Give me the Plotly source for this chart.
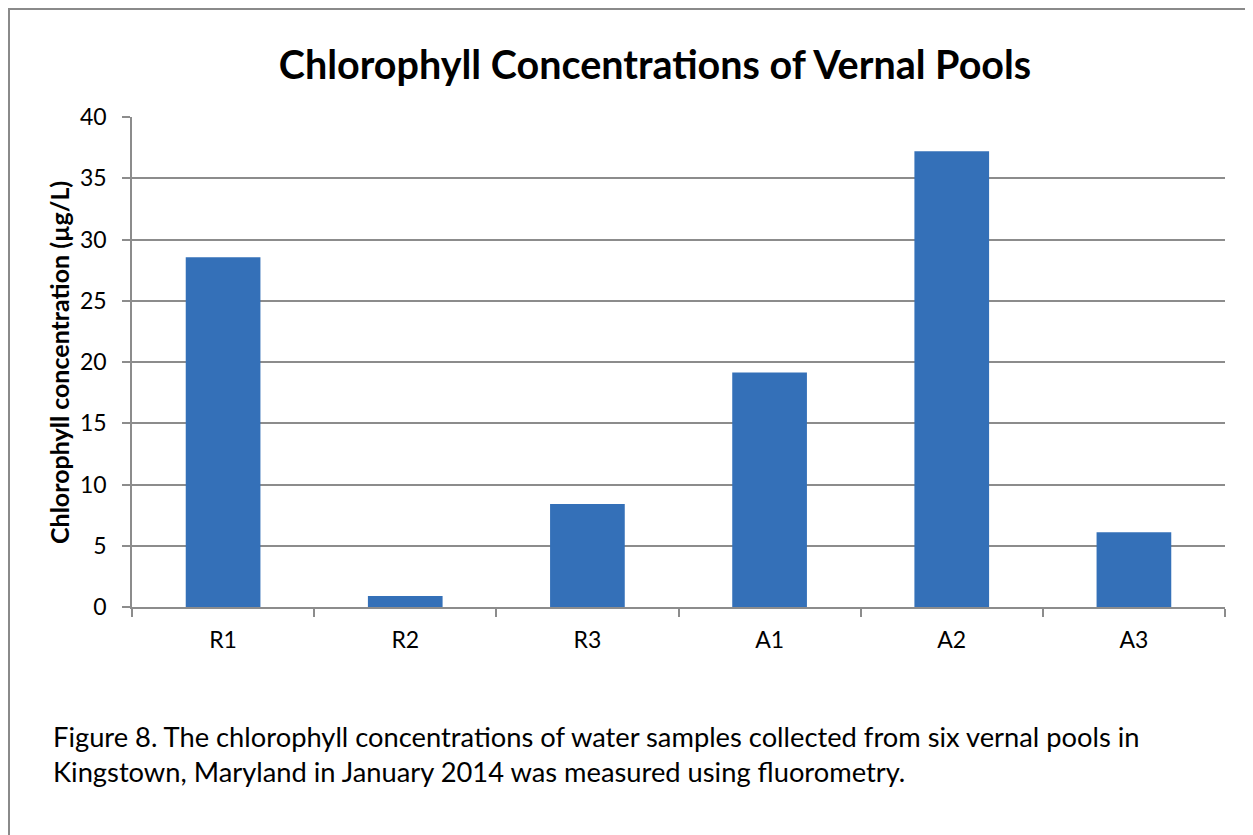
import plotly.graph_objects as go

categories = ["R1", "R2", "R3", "A1", "A2", "A3"]
chlorophyll = [28.55, 0.9, 8.4, 19.15, 37.2, 6.1]
y_ticks = [0, 5, 10, 15, 20, 25, 30, 35, 40]

FONT = "Lato, Carlito, Calibri, sans-serif"
GRID = "#8c8c8c"

# page is offset by the 8px body margin; figure coordinates = page - 8
OFF = 8
W, H = 1253 - OFF, 835 - OFF
L, R, T, B = 132 - OFF, 1253 - 1225, 117 - OFF, 835 - 607
pw, ph = W - L - R, H - T - B


def px_x(p):
    return (p - OFF - L) / pw


def px_y(p):
    return (H - B - (p - OFF)) / ph


fig = go.Figure()
fig.add_trace(go.Bar(
    x=categories, y=chlorophyll,
    marker=dict(color="#3470b8", line=dict(width=0)),
    width=0.41,
))

fig.update_layout(
    width=W, height=H,
    margin=dict(l=L, r=R, t=T, b=B),
    plot_bgcolor="white", paper_bgcolor="white",
    showlegend=False,
    font=dict(family=FONT, color="#000000"),
    title=dict(
        text="<b>Chlorophyll Concentrations of Vernal Pools</b>",
        x=(655 - OFF) / W, xanchor="center", xref="container",
        y=1 - (65 - OFF) / H, yanchor="middle", yref="container",
        font=dict(size=39.5, family=FONT, color="#000000"),
    ),
    xaxis=dict(
        type="category",
        showline=True, linecolor=GRID, linewidth=1.5,
        ticks="outside", ticklen=8, tickcolor=GRID, tickwidth=1.5,
        tickson="boundaries",
        tickfont=dict(size=23, family=FONT),
        ticklabelstandoff=12,
        showgrid=False,
    ),
    yaxis=dict(
        range=[0, 40], tickvals=y_ticks,
        showline=True, linecolor=GRID, linewidth=1.5,
        ticks="outside", ticklen=8, tickcolor=GRID, tickwidth=1.5,
        showgrid=True, gridcolor=GRID, gridwidth=1.5,
        zeroline=False,
        tickfont=dict(size=23, family=FONT),
        ticklabelstandoff=11,
    ),
    bargap=0.59,
)

fig.add_annotation(
    text="<b>Chlorophyll concentration (µg/L)</b>",
    textangle=-90,
    xref="paper", yref="paper",
    x=px_x(59), y=px_y(363), xanchor="center", yanchor="middle",
    showarrow=False,
    font=dict(size=25, family=FONT, color="#000000"),
)

fig.add_annotation(
    text="Figure 8. The chlorophyll concentrations of water samples collected from six vernal pools in<br>"
         "Kingstown, Maryland in January 2014 was measured using fluorometry.",
    xref="paper", yref="paper",
    x=px_x(51), y=px_y(718), xanchor="left", yanchor="top",
    align="left", showarrow=False,
    font=dict(size=27.3, family=FONT, color="#000000"),
)

fig.add_shape(
    type="rect", xref="paper", yref="paper",
    x0=px_x(9), x1=px_x(1270), y0=px_y(9), y1=px_y(850),
    line=dict(color="#8a8a8a", width=2), fillcolor="rgba(0,0,0,0)",
    layer="below",
)

fig.write_html("out.html")
